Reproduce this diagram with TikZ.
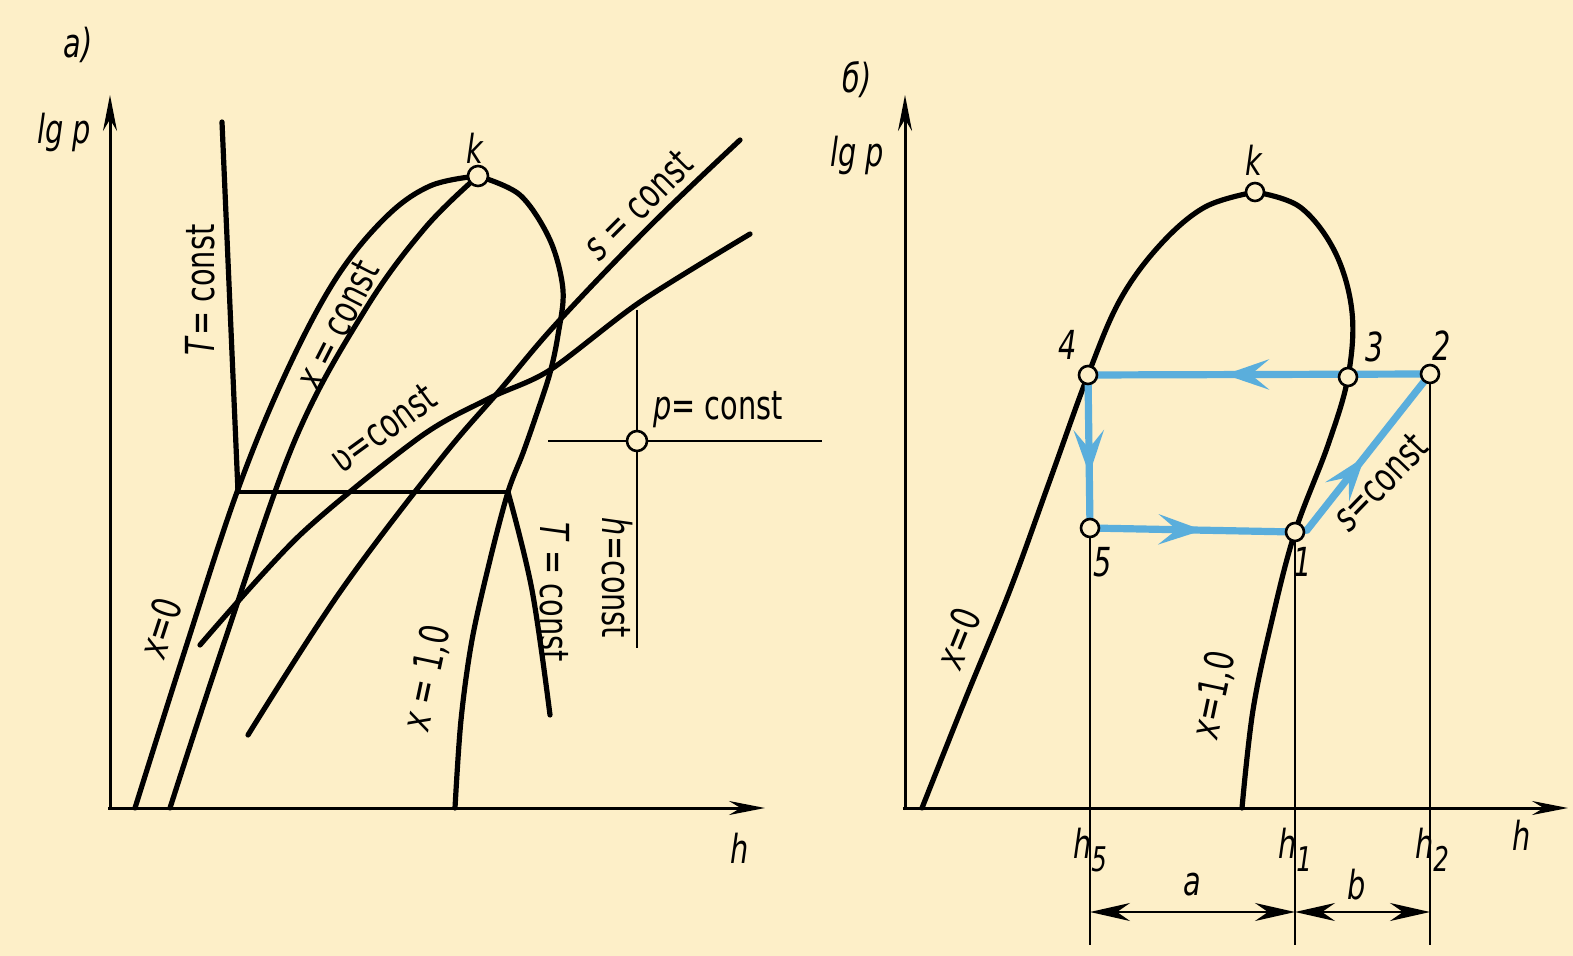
\documentclass[tikz,border=0pt]{standalone}
\usepackage{fontspec}
\setmainfont{DejaVu Sans}[FakeStretch=0.72]
\usetikzlibrary{arrows.meta, decorations.markings}
\definecolor{paperBg}{HTML}{FDEFC8}
\definecolor{cycleBlue}{HTML}{5AAEDC}
\newcommand{\hsub}[1]{\textit{h}\raisebox{-0.6ex}{\fontsize{17}{18}\selectfont\itshape #1}}

\tikzset{
  isoline/.style={line width=2.6pt, line cap=round},
  axisline/.style={line width=1.5pt, -{Stealth[length=18pt, width=7pt]}},
  thinline/.style={line width=1pt},
  statept/.style={circle, draw, line width=1.3pt, fill=paperBg, inner sep=0pt, minimum size=9pt},
  lbl/.style={font=\fontsize{20}{24}\selectfont, inner sep=1pt},
  ilbl/.style={font=\fontsize{20}{24}\selectfont\itshape, inner sep=1pt},
  cyclepath/.style={draw=cycleBlue, line width=3.6pt},
  midarrow/.style={postaction={decorate, decoration={markings,
      mark=at position #1 with {\arrow{Stealth[length=22pt, width=15pt, inset=9pt]}}}}},
  dimarrow/.style={line width=1pt, {Stealth[length=20pt, width=9pt]}-{Stealth[length=20pt, width=9pt]}}
}

\begin{document}
\begin{tikzpicture}[x=0.5pt, y=-0.5pt]
  \fill[paperBg] (0,0) rectangle (1573,956);
  \useasboundingbox (0,0) rectangle (1573,956);

  % --- a) ---
  \coordinate (kA) at (478,176);
  \coordinate (pA) at (637,441);
  \draw[axisline] (110,810) -- (110,95);
  \draw[axisline] (108,808) -- (765,808);
  \node[ilbl] (labA) at (78,45) {a)};
  \node[ilbl] (lgpA) at (64,132) {lg p};
  \node[ilbl] (hA) at (740,848) {h};

  % saturation lines
  \draw[isoline] plot[smooth, tension=0.6] coordinates {(135,808) (185,650) (237,492) (285,375) (335,280) (385,218) (430,186) (478,176)};
  \draw[isoline] plot[smooth, tension=0.55] coordinates {(478,176) (520,195) (550,240) (563,290) (558,335) (550,373) (537,413) (523,453) (508,492) (490,560) (472,640) (461,720) (455,808)};
  \draw[isoline] plot[smooth, tension=0.6] coordinates {(170,808) (225,640) (295,440) (365,310) (425,228) (478,176)};
  % isotherm
  \draw[isoline] (222,122) -- (238,492);
  \draw[thinline, line width=1.8pt] (238,492) -- (508,492);
  \draw[isoline] plot[smooth, tension=0.6] coordinates {(508,492) (532,590) (550,715)};
  % isentrope and isochore
  \draw[isoline] plot[smooth, tension=0.6] coordinates {(248,735) (340,592) (440,460) (500,390) (557,323) (650,226) (740,140)};
  \draw[isoline] plot[smooth, tension=0.5] coordinates {(200,645) (300,535) (420,437) (490,398) (550,370) (640,302) (750,234)};
  % p, h cross
  \draw[thinline, line width=1.4pt] (548,441) -- (822,441);
  \draw[thinline, line width=1.4pt] (637,310) -- (637,648);
  \node[statept, minimum size=10pt] (crossA) at (pA) {};
  \node[statept, minimum size=10pt] (critA) at (kA) {};
  \node[ilbl] (kAlab) at (475,148) {k};

  \node[lbl, rotate=90] (TconstA) at (200,290) {\textit{T}= const};
  \node[lbl, rotate=63] (xconstA) at (337,325) {\textit{x} = const};
  \node[lbl, rotate=36] (vconstA) at (383,428) {ʋ=const};
  \node[lbl, rotate=45] (sconstA) at (638,205) {\textit{s} = const};
  \node[lbl, rotate=72] (xzeroA) at (160,628) {\textit{x}=0};
  \node[lbl, rotate=78] (xoneA) at (427,678) {\textit{x} = 1,0};
  \node[lbl, rotate=-90] (TconstB) at (555,592) {\textit{T} = const};
  \node[lbl, rotate=-90] (hconstA) at (617,578) {\textit{h}=const};
  \node[lbl] (pconstA) at (718,410) {\textit{p}= const};

  % --- б) ---
  \coordinate (kB) at (1255,192);
  \coordinate (c4) at (1088,375);
  \coordinate (c3) at (1348,377);
  \coordinate (c2) at (1430,374);
  \coordinate (c5) at (1090,528);
  \coordinate (c1) at (1295,532);
  \coordinate (b5) at (1090,945);
  \coordinate (b1) at (1295,945);
  \coordinate (b2) at (1430,945);
  \coordinate (d5) at (1090,912);
  \coordinate (d1) at (1295,912);
  \coordinate (d2) at (1430,912);

  \draw[axisline] (905,810) -- (905,95);
  \draw[axisline] (903,808) -- (1568,808);
  \node[ilbl] (labB) at (857,80) {б)};
  \node[ilbl] (lgpB) at (857,155) {lg p};
  \node[ilbl] (hB) at (1522,835) {h};

  \draw[isoline] plot[smooth, tension=0.6] coordinates {(922,808) (965,700) (1010,590) (1050,480) (1088,375) (1120,300) (1160,245) (1205,207) (1255,192)};
  \draw[isoline] plot[smooth, tension=0.6] coordinates {(1255,192) (1300,207) (1335,252) (1352,312) (1348,377) (1328,445) (1295,532) (1272,620) (1253,710) (1242,808)};

  \draw[thinline] (c5) -- (b5);
  \draw[thinline] (c1) -- (b1);
  \draw[thinline] (c2) -- (b2);

  % cycle
  \draw[cyclepath, midarrow=0.6] (c2) -- (c4);
  \draw[cyclepath, midarrow=0.65] (c4) -- (c5);
  \draw[cyclepath, midarrow=0.55] (c5) -- (c1);
  \draw[cyclepath, midarrow=0.5] (c1) -- ++(12,-2) -- (c2);

  \node[statept] (critB) at (kB) {};
  \node[statept] (p4) at (c4) {};
  \node[statept] (p3) at (c3) {};
  \node[statept] (p2) at (c2) {};
  \node[statept] (p5) at (c5) {};
  \node[statept] (p1) at (c1) {};

  \node[ilbl] (kBlab) at (1254,160) {k};
  \node[ilbl] (l4) at (1068,345) {4};
  \node[ilbl] (l3) at (1375,347) {3};
  \node[ilbl] (l2) at (1442,346) {2};
  \node[ilbl] (l5) at (1103,562) {5};
  \node[ilbl] (l1) at (1303,562) {1};

  \node[lbl, rotate=68] (xzeroB) at (958,638) {\textit{x}=0};
  \node[lbl, rotate=78] (xoneB) at (1214,695) {\textit{x}=1,0};
  \node[lbl, rotate=46] (sconstB) at (1380,482) {\textit{s}=const};

  \node[ilbl] (h5lab) at (1090,850) {\hsub{5}};
  \node[ilbl] (h1lab) at (1295,850) {\hsub{1}};
  \node[ilbl] (h2lab) at (1432,850) {\hsub{2}};

  \draw[dimarrow] (d5) -- (d1);
  \draw[dimarrow] (d1) -- (d2);
  \node[ilbl] (alab) at (1192,885) {a};
  \node[ilbl] (blab) at (1357,885) {b};
\end{tikzpicture}
\end{document}
